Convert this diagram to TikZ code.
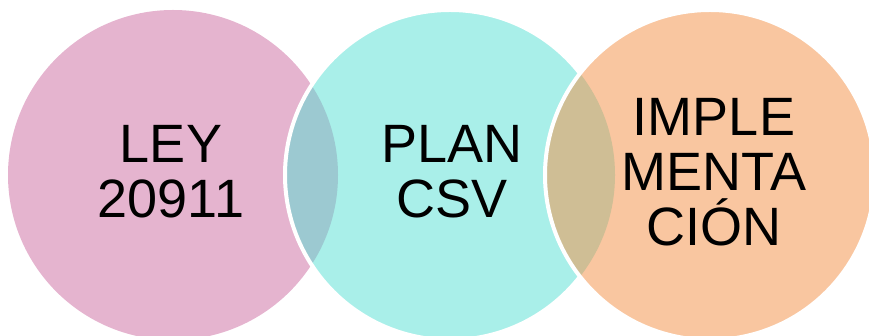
\documentclass[tikz,border=0pt]{standalone}
\usepackage{fontspec}
\setmainfont{Liberation Sans}
\usepackage{tikz}
\definecolor{leypink}{HTML}{E5B4CF}
\definecolor{plancyan}{HTML}{A9EFE9}
\definecolor{implorange}{HTML}{F9C6A0}
\definecolor{leyplan}{HTML}{9CC9D1}
\definecolor{planimpl}{HTML}{CFBE95}
\tikzstyle{bubble} = [circle,minimum size=330pt,inner sep=0pt]
\tikzstyle{rim} = [draw=white,line width=4pt]
\tikzstyle{bigtext} = [align=center,inner sep=0pt,font=\fontsize{54}{55}\selectfont]

\begin{document}
\begin{tikzpicture}[x=1pt,y=1pt]
  \useasboundingbox (0,0) rectangle (869,336);
  \begin{scope}
  \clip (0,0) rectangle (869,336);
  % ley
  \node[bubble,fill=leypink] (ley) at (173,161) {};
  % plan
  \node[bubble,fill=plancyan] (plan) at (450,161) {};
  \begin{scope}
    \clip (ley.center) circle (165);
    \fill[leyplan] (plan.center) circle (165);
  \end{scope}
  \draw[rim] (plan.center) circle (165);
  % implementacion
  \node[bubble,fill=implorange] (impl) at (710,161) {};
  \begin{scope}
    \clip (plan.center) circle (165);
    \fill[planimpl] (impl.center) circle (165);
  \end{scope}
  \draw[rim] (impl.center) circle (165);
  \end{scope}
  \node[bigtext] (leytext) at (171,164) {LEY\\20911};
  \node[bigtext] (plantext) at (452,164) {PLAN\\CSV};
  \node[bigtext] (impltext) at (714,164) {IMPLE\\MENTA\\CIÓN};
\end{tikzpicture}
\end{document}
